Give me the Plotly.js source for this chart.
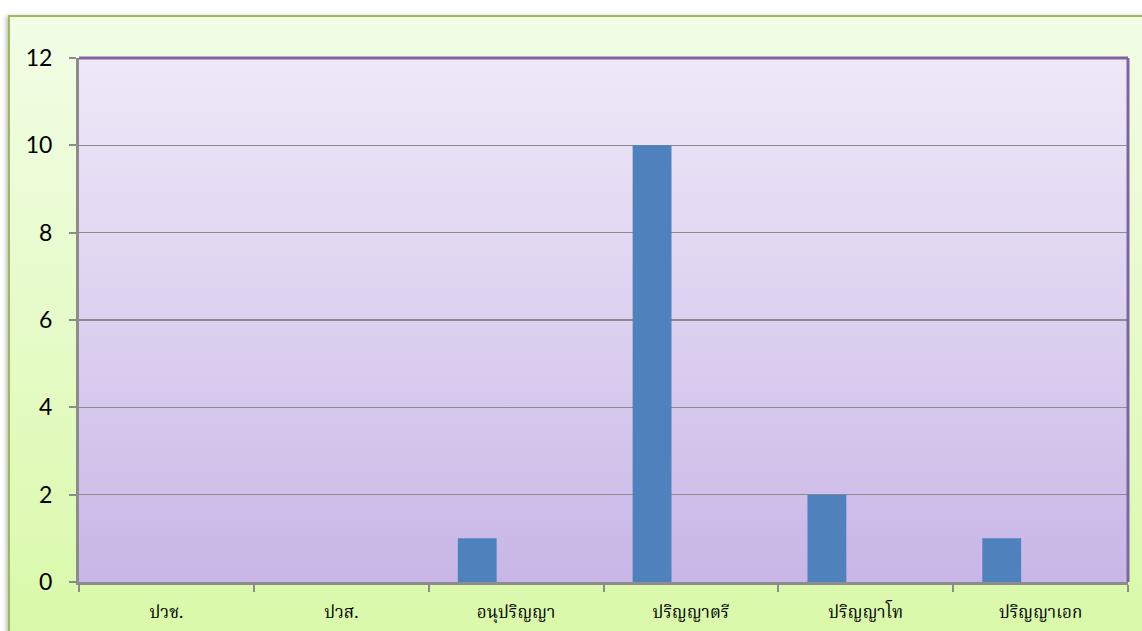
<!DOCTYPE html>
<html><head><meta charset="utf-8">
<script src="https://cdn.plot.ly/plotly-3.0.1.min.js"></script>
<style>
html,body{margin:0;padding:0;width:1142px;height:631px;overflow:hidden;background:#fff;}
#frame{position:absolute;left:8px;top:15px;width:1150px;height:630px;box-sizing:border-box;border:2px solid #9BBB59;
 background:linear-gradient(to bottom,#F2FDE6 0%,#E6FBC8 50%,#D9F9A8 100%);box-shadow:-2px 1px 4px rgba(0,0,0,0.25);}
#chart{position:absolute;left:0;top:0;width:1142px;height:631px;}
</style></head>
<body>
<div id="frame"></div>
<div id="chart"></div>
<script>
const categories = ["ปวช.", "ปวส.", "อนุปริญญา", "ปริญญาตรี", "ปริญญาโท", "ปริญญาเอก"];
const counts = [0, 0, 1, 10, 2, 1];
const yTicks = [0, 2, 4, 6, 8, 10, 12];

const grad = 'data:image/svg+xml;utf8,' + encodeURIComponent(
 '<svg xmlns="http://www.w3.org/2000/svg" width="10" height="100" preserveAspectRatio="none">' +
 '<defs><linearGradient id="g" x1="0" y1="0" x2="0" y2="1">' +
 '<stop offset="0" stop-color="#EEE8F7"/><stop offset="0.5" stop-color="#DDD1F0"/><stop offset="1" stop-color="#C8B6E7"/>' +
 '</linearGradient></defs><rect width="10" height="100" fill="url(#g)"/></svg>');

const trace = {
  type: 'bar', x: categories, y: counts,
  width: 0.2222, offset: -0.3333,
  marker: {color: '#4F81BD', line: {width: 0}},
  hoverinfo: 'x+y'
};

const layout = {
  width: 1142, height: 631,
  margin: {l: 79, r: 14, t: 58, b: 49},
  paper_bgcolor: 'rgba(0,0,0,0)', plot_bgcolor: 'rgba(0,0,0,0)',
  showlegend: false,
  font: {family: 'Lato, "Open Sans", sans-serif', color: '#000'},
  xaxis: {
    type: 'category', range: [-0.5, 5.5], tickson: 'boundaries',
    ticks: 'outside', ticklen: 7, tickwidth: 2, tickcolor: '#8C8C8C',
    showline: true, linecolor: '#8C8C8C', linewidth: 3,
    showgrid: false, ticklabelstandoff: 13,
    tickfont: {family: '"Noto Serif Thai", "Noto Sans Thai Looped", "TLWG Typo", Garuda, serif', size: 17, color: '#000'}
  },
  yaxis: {
    range: [0, 12], tickvals: yTicks, ticktext: yTicks.map(String),
    ticks: 'outside', ticklen: 7, tickwidth: 2, tickcolor: '#8C8C8C',
    showline: true, linecolor: '#8C8C8C', linewidth: 3,
    showgrid: true, gridcolor: '#8C8C8C', gridwidth: 1.5, zeroline: false,
    ticklabelstandoff: 12,
    tickfont: {family: 'Lato, "Open Sans", sans-serif', size: 23, color: '#000'}
  },
  images: [{source: grad, xref: 'paper', yref: 'paper', x: 0, y: 1, sizex: 1, sizey: 1,
            xanchor: 'left', yanchor: 'top', sizing: 'stretch', layer: 'below'}],
  shapes: [
    {type: 'line', xref: 'paper', yref: 'paper', x0: 0, x1: 1, y0: 1, y1: 1, line: {color: '#8064A2', width: 3}},
    {type: 'line', xref: 'paper', yref: 'paper', x0: 1, x1: 1, y0: 0, y1: 1, line: {color: '#8064A2', width: 3}}
  ]
};

Plotly.newPlot('chart', [trace], layout, {displayModeBar: false, staticPlot: true});
</script>
</body></html>
